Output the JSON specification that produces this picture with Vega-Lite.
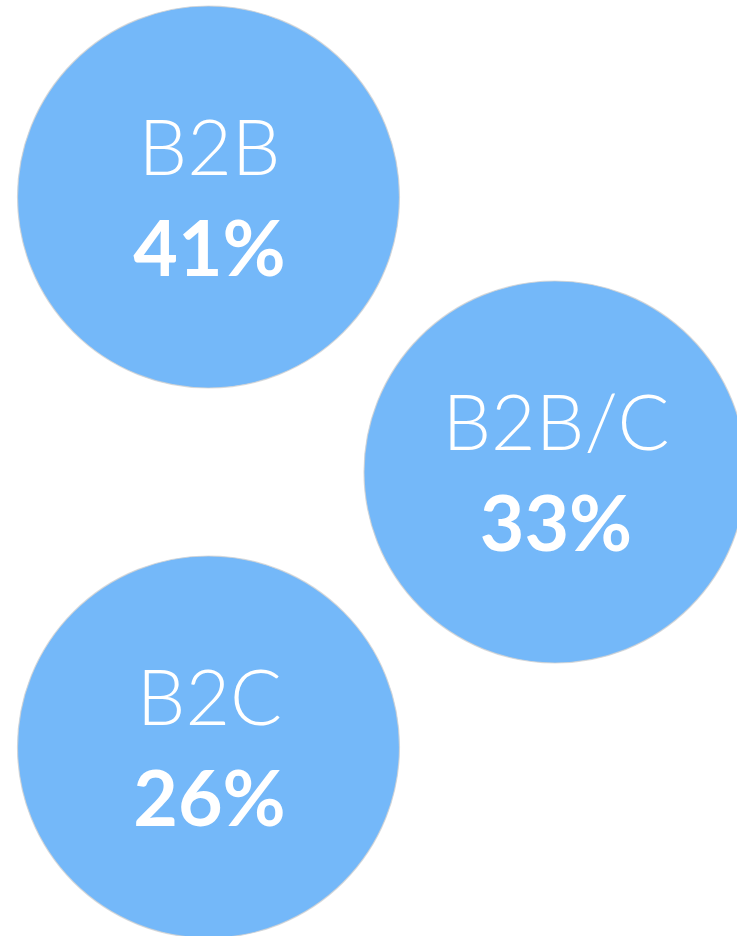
{
  "$schema": "https://vega.github.io/schema/vega-lite/v6.json",
  "width": 737,
  "height": 936,
  "autosize": {"type": "none"},
  "padding": 0,
  "background": "white",
  "config": {"view": {"stroke": null}},
  "data": {
    "values": [
      {"segment": "B2B", "share": "41%", "col": 0, "row": 0},
      {"segment": "B2B/C", "share": "33%", "col": 1, "row": 1},
      {"segment": "B2C", "share": "26%", "col": 0, "row": 2}
    ]
  },
  "encoding": {
    "x": {"field": "col", "type": "quantitative", "scale": {"domain": [-0.6017, 1.5253], "nice": false, "zero": false}, "axis": null},
    "y": {"field": "row", "type": "quantitative", "scale": {"domain": [-0.7164, 2.6873], "nice": false, "zero": false, "reverse": true}, "axis": null}
  },
  "layer": [
    {
      "mark": {"type": "point", "shape": "circle", "filled": true, "size": 145900, "fill": "#74B8F9", "fillOpacity": 1, "stroke": "#d2d2d2", "strokeWidth": 1.2, "strokeOpacity": 0.8}
    },
    {
      "mark": {"type": "text", "font": "Lato", "fontWeight": 300, "fontSize": 77, "color": "white", "baseline": "alphabetic", "align": "center", "dy": -22, "dx": 1},
      "encoding": {"text": {"field": "segment"}}
    },
    {
      "mark": {"type": "text", "font": "Lato", "fontWeight": "bold", "fontSize": 77, "color": "white", "baseline": "alphabetic", "align": "center", "dy": 79, "dx": 1},
      "encoding": {"text": {"field": "share"}}
    }
  ]
}
